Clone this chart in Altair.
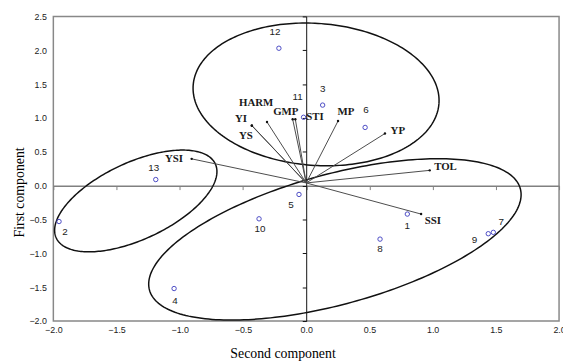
import altair as alt
import pandas as pd
import numpy as np

# ---- data ----
genotypes = ["1", "2", "3", "4", "5", "6", "7", "8", "9", "10", "11", "12", "13"]
geno_x = [0.80, -1.955, 0.13, -1.045, -0.057, 0.466, 1.48, 0.584, 1.44, -0.373, -0.021, -0.216, -1.19]
geno_y = [-0.42, -0.53, 1.19, -1.52, -0.13, 0.86, -0.69, -0.79, -0.71, -0.49, 1.01, 2.03, 0.09]
# label offsets in pixels (dx right, dy down)
geno_dx = [0, 6, 0, 1, -8, 1, 8, 0, -14, 1, -6, -4, -2]
geno_dy = [12, 11, -16, 13, 11, -18, -10, 10, 6, 10, -21, -16, -12]

indices = ["YP", "MP", "STI", "GMP", "HARM", "YI", "YS", "YSI", "TOL", "SSI"]
idx_x = [0.623, 0.252, -0.086, -0.107, -0.31, -0.43, -0.43, -0.906, 0.977, 0.909]
idx_y = [0.77, 0.955, 0.98, 0.98, 0.94, 0.89, 0.885, 0.396, 0.226, -0.42]
idx_dx = [13, 8, 20, -7, -11, -11, -6, -18, 16, 12]
idx_dy = [-3, -9, -2, -7, -19, -6, 10, 0, -3, 7]
origin = (0.0, 0.04)

x_ticks = [-2.0, -1.5, -1.0, -0.5, 0.0, 0.5, 1.0, 1.5, 2.0]
y_ticks = [-2.0, -1.5, -1.0, -0.5, 0.0, 0.5, 1.0, 1.5, 2.0, 2.5]

# ellipses: centre (data), semi-axes (px), rotation (deg)
ell_names = ["top", "left", "big"]
ell_cx = [0.078, -1.348, 0.227]
ell_cy = [1.348, -0.226, -0.794]
ell_a = [125, 89, 195]
ell_b = [72, 39, 66]
ell_rot = [-4.3, 25.0, 15.3]

# ---- layout ----
W, H = 513, 309
XD, YD = [-2.0, 2.0], [-2.0, 2.5]
kx = W / (XD[1] - XD[0])
ky = H / (YD[1] - YD[0])
y0px = H * (YD[1] - 0) / (YD[1] - YD[0])
x0px = W * (0 - XD[0]) / (XD[1] - XD[0])

geno = pd.DataFrame({"g": genotypes, "x": geno_x, "y": geno_y})
geno["lx"] = geno["x"] + np.array(geno_dx) / kx
geno["ly"] = geno["y"] - np.array(geno_dy) / ky

vec = pd.DataFrame({"name": indices, "x": idx_x, "y": idx_y})
vec["x0"] = origin[0]
vec["y0"] = origin[1]
vec["lx"] = vec["x"] + np.array(idx_dx) / kx
vec["ly"] = vec["y"] - np.array(idx_dy) / ky

rows = []
t = np.linspace(0, 2 * np.pi, 241)
for n, cx, cy, a, b, r in zip(ell_names, ell_cx, ell_cy, ell_a, ell_b, ell_rot):
    th = np.deg2rad(r)
    X = a * np.cos(t) * np.cos(th) - b * np.sin(t) * np.sin(th)
    Y = a * np.cos(t) * np.sin(th) + b * np.sin(t) * np.cos(th)
    for i in range(len(t)):
        rows.append({"e": n, "i": i, "x": cx + X[i] / kx, "y": cy + Y[i] / ky})
ell = pd.DataFrame(rows)

xs = alt.Scale(domain=XD, nice=False, zero=False)
ys = alt.Scale(domain=YD, nice=False, zero=False)

x_axis = alt.Axis(
    values=x_ticks, format=".1f", orient="bottom", offset=-(H - y0px),
    domainColor="#808080", domainWidth=1.5, tickColor="#808080", tickSize=4, tickWidth=1,
    labelPadding=(H - y0px) + 1, labelFont="Liberation Sans", labelFontSize=9,
    labelColor="#222222", labelFlush=False, labelOverlap=False, grid=False,
    title="Second component", titleFont="Liberation Serif", titleFontSize=14,
    titleFontWeight="normal", titleColor="#000000", titleX=232.5, titleY=170,
    titleBaseline="middle")
y_axis = alt.Axis(
    values=y_ticks, format=".1f", orient="left", offset=-x0px,
    domainColor="#111111", domainWidth=1, tickColor="#111111", tickSize=4, tickWidth=1,
    labelPadding=x0px + 3, labelFont="Liberation Sans", labelFontSize=9,
    labelColor="#222222", labelFlush=False, labelOverlap=False, grid=False,
    title="First component", titleFont="Liberation Serif", titleFontSize=14,
    titleFontWeight="normal", titleColor="#000000", titleX=-(x0px + 34), titleY=178,
    titleBaseline="middle")

def X(f):
    return alt.X(f, type="quantitative", scale=xs, axis=x_axis)

def Y(f):
    return alt.Y(f, type="quantitative", scale=ys, axis=y_axis)

ellipses = alt.Chart(ell).mark_line(color="#111111", strokeWidth=1.5).encode(
    x=X("x"), y=Y("y"), detail="e:N", order="i:Q")

vlines = alt.Chart(vec).mark_rule(color="#4a4a4a", strokeWidth=1).encode(
    x=X("x0"), y=Y("y0"), x2="x:Q", y2="y:Q")

vdots = alt.Chart(vec).mark_circle(color="#111111", size=6, opacity=1).encode(
    x=X("x"), y=Y("y"))

vtext = alt.Chart(vec).mark_text(font="Liberation Serif", fontSize=11, fontWeight="bold",
                                 color="#1a1a1a", align="center", baseline="middle").encode(
    x=X("lx"), y=Y("ly"), text="name:N")

pts = alt.Chart(geno).mark_point(shape="circle", size=20, filled=False,
                                 color="#4b4bc4", strokeWidth=1, opacity=1).encode(
    x=X("x"), y=Y("y"))

ptext = alt.Chart(geno).mark_text(font="Liberation Sans", fontSize=10, color="#222222",
                                  align="center", baseline="middle").encode(
    x=X("lx"), y=Y("ly"), text="g:N")

chart = alt.layer(ellipses, vlines, vdots, pts, ptext, vtext).properties(
    width=W, height=H,
    autosize=alt.AutoSizeParams(type="none"),
    padding={"left": 46, "top": 6, "right": 4, "bottom": 38},
    background="white",
).configure_view(stroke="#888888", strokeWidth=1.5)

chart.save("out.html", embed_options={"renderer": "svg", "actions": False})
